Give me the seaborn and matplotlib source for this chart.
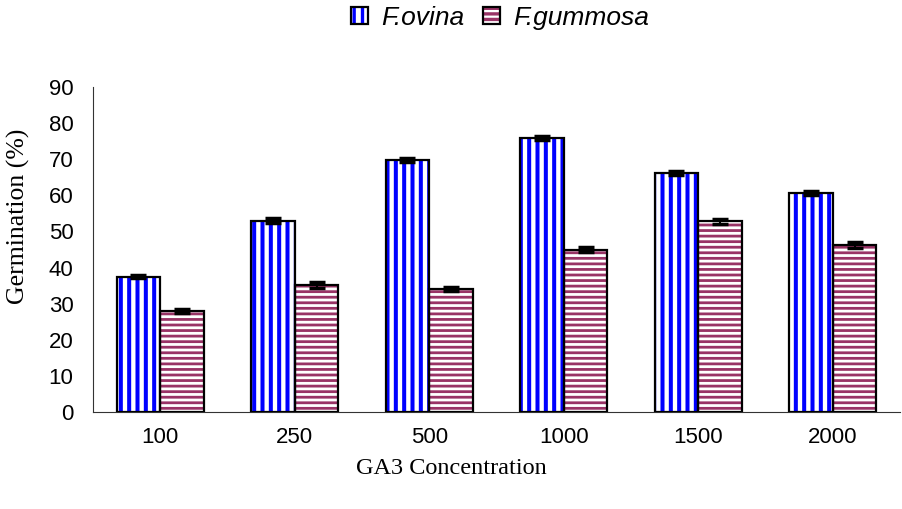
import matplotlib
matplotlib.use("Agg")
import matplotlib.pyplot as plt
import numpy as np
import pandas as pd
import seaborn as sns
from matplotlib.legend_handler import HandlerTuple
from matplotlib.patches import Patch, Rectangle

concentrations = ["100", "250", "500", "1000", "1500", "2000"]
species = ["F.ovina", "F.gummosa"]
ovina = [37.5, 53.0, 69.8, 75.8, 66.2, 60.6]
gummosa = [28.0, 35.2, 34.0, 45.0, 52.8, 46.2]
ovina_err = [0.5, 0.6, 0.6, 0.6, 0.5, 0.6]
gummosa_err = [0.6, 0.9, 0.6, 0.6, 0.6, 0.9]

stripe_colors = {"F.ovina": "#0000FF", "F.gummosa": "#993366"}
hatches = {"F.ovina": "||", "F.gummosa": "---"}
hatch_widths = {"F.ovina": 2.9, "F.gummosa": 2.0}

df = pd.DataFrame({
    "conc": concentrations * 2,
    "species": [species[0]] * 6 + [species[1]] * 6,
    "value": ovina + gummosa,
    "err": ovina_err + gummosa_err,
})

sns.set_style("white")
plt.rcParams["font.family"] = ["Liberation Sans", "DejaVu Sans"]
plt.rcParams["hatch.linewidth"] = 2.4
plt.rcParams["text.color"] = "black"
plt.rcParams["axes.labelcolor"] = "black"
plt.rcParams["xtick.color"] = "black"
plt.rcParams["ytick.color"] = "black"


def stripe(patch, sp, scale=1.0):
    patch.set_facecolor("white")
    patch.set_edgecolor(stripe_colors[sp])
    patch.set_hatch(hatches[sp])
    patch.set_linewidth(0)
    if hasattr(patch, "set_hatch_linewidth"):
        patch.set_hatch_linewidth(hatch_widths[sp] * scale)
    else:
        patch._hatch_linewidth = hatch_widths[sp] * scale


fig = plt.figure(figsize=(9.03, 5.09), dpi=100)
ax = fig.add_axes([0.103, 0.1906, 0.8937, 0.6384])

sns.barplot(data=df, x="conc", y="value", hue="species", order=concentrations,
            hue_order=species, width=0.65, gap=0, errorbar=None, legend=False,
            palette=["white", "white"], ax=ax)

# patches come ordered hue-by-hue
bars = list(ax.patches[:12])
for i, p in enumerate(bars):
    stripe(p, species[i // 6])
    ax.add_patch(Rectangle(p.get_xy(), p.get_width(), p.get_height(),
                           fill=False, edgecolor="black", linewidth=1.6, zorder=3))
    ax.errorbar(p.get_x() + p.get_width() / 2, p.get_height(), yerr=df["err"].iloc[i],
                fmt="none", ecolor="black", elinewidth=1.5, capsize=6, capthick=2.5, zorder=4)

ax.set_xlim(-0.5, 5.5)
ax.set_ylim(0, 90)
ax.set_yticks(np.arange(0, 91, 10))
ax.set_xticks(range(6))
ax.set_xticklabels(concentrations)
ax.set_xticks(np.arange(0.5, 5.6, 1), minor=True)
ax.tick_params(axis="x", which="major", length=0, pad=11, labelsize=16, labelcolor="black")
ax.tick_params(axis="x", which="minor", length=7, width=0.8, direction="out", color="#333333")
ax.tick_params(axis="y", length=6, width=0.8, direction="out", labelsize=16, pad=8,
               color="#333333", labelcolor="black")
for side in ["top", "right"]:
    ax.spines[side].set_visible(False)
for side in ["left", "bottom"]:
    ax.spines[side].set_color("#333333")
    ax.spines[side].set_linewidth(0.8)

ax.set_xlabel("GA3 Concentration", family=["Liberation Serif"], fontsize=17.5, color="black")
ax.set_ylabel("Germination (%)", family=["Liberation Serif"], fontsize=18.5, color="black")
ax.xaxis.set_label_coords(0.5, 1 - 469 / 509, transform=fig.transFigure)
ax.yaxis.set_label_coords(18 / 903, 1 - 216 / 509, transform=fig.transFigure)
ax.xaxis.label.set_va("center")
ax.yaxis.label.set_va("center")

handles = []
for s in species:
    face = Patch()
    stripe(face, s, 0.8)
    outline = Patch(facecolor="none", edgecolor="black", linewidth=1.6)
    handles.append((face, outline))
fig.legend(handles, species, handler_map={tuple: HandlerTuple(ndivide=1, pad=0)},
           loc="center", bbox_to_anchor=(0.554, 0.965), ncol=2, frameon=False,
           handlelength=0.65, handleheight=0.65, handletextpad=0.5, columnspacing=0.7,
           labelcolor="black", prop={"style": "italic", "size": 19})

fig.savefig("out.png", dpi=100)
